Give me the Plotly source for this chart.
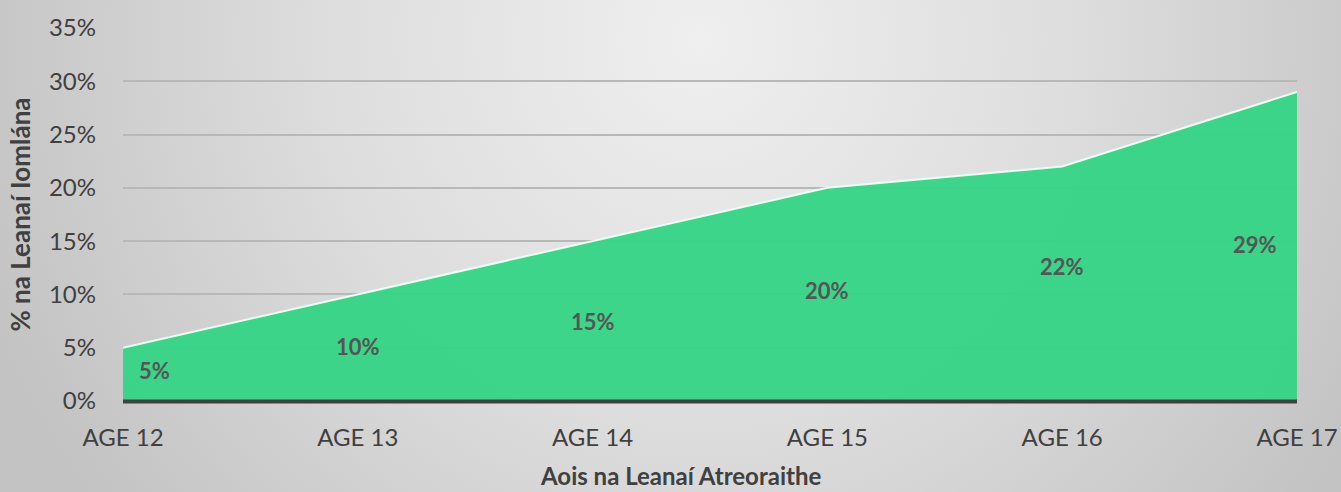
import base64
import plotly.graph_objects as go

categories = ["AGE 12", "AGE 13", "AGE 14", "AGE 15", "AGE 16", "AGE 17"]
values = [5, 10, 15, 20, 22, 29]
y_ticks = [0, 5, 10, 15, 20, 25, 30, 35]
y_tick_labels = [f"{v}%" for v in y_ticks]

W, H = 1341, 492
ML, MR, MT, MB = 123, 44, 28, 91
PW, PH = W - ML - MR, H - MT - MB

FONT = "Lato"

svg = f"""<svg xmlns='http://www.w3.org/2000/svg' width='{W}' height='{H}'>
<defs><radialGradient id='g' gradientUnits='userSpaceOnUse' cx='700' cy='40' r='760'>
<stop offset='0' stop-color='#efefef'/><stop offset='0.5' stop-color='#dddddd'/><stop offset='1' stop-color='#c3c3c3'/>
</radialGradient></defs><rect width='{W}' height='{H}' fill='url(#g)'/></svg>"""
bg_uri = "data:image/svg+xml;base64," + base64.b64encode(svg.encode()).decode()

fig = go.Figure()
fig.add_trace(go.Scatter(
    x=categories, y=values, mode="lines", fill="tozeroy",
    fillcolor="rgba(52,212,132,0.95)",
    line=dict(color="rgba(245,255,250,0.9)", width=2),
    hoverinfo="skip", showlegend=False,
))

# baseline (paper refs so it is not clipped)
fig.add_shape(type="line", xref="paper", yref="paper", x0=0, x1=1,
              y0=-0.5 / PH, y1=-0.5 / PH, line=dict(color="#404040", width=4), layer="above")

# data labels
n = len(categories)
label_yshift = [4, 1, 0, 4, 17, 2]
for i, (c, v) in enumerate(zip(categories, values)):
    xshift = 31 if i == 0 else (-42 if i == n - 1 else 0)
    fig.add_annotation(x=c, y=v / 2, text=f"<b>{v}%</b>", showarrow=False,
                       xshift=xshift, yshift=label_yshift[i],
                       font=dict(family=FONT, size=22, color="#555555"))

fig.add_annotation(xref="paper", yref="paper", x=(680 - ML) / PW, y=(H - MB - 492) / PH,
                   text="<b>Aois na Leanaí Atreoraithe</b>", showarrow=False,
                   font=dict(family=FONT, size=24, color="#404040"), yanchor="bottom")

fig.update_layout(
    width=W, height=H,
    margin=dict(l=ML, r=MR, t=MT, b=MB, autoexpand=False),
    paper_bgcolor="#d8d8d8",
    plot_bgcolor="rgba(0,0,0,0)",
    font=dict(family=FONT, color="#404040"),
    images=[dict(source=bg_uri, xref="paper", yref="paper",
                 x=-ML / PW, y=1 + MT / PH, sizex=W / PW, sizey=H / PH,
                 xanchor="left", yanchor="top", sizing="stretch", layer="below")],
    xaxis=dict(
        type="category", range=[0, n - 1], showgrid=False, zeroline=False, automargin=False,
        showline=False, ticks="", tickfont=dict(family=FONT, size=24, color="#404040"),
        ticklabelstandoff=20,
    ),
    yaxis=dict(
        range=[0, 35], tickvals=y_ticks, ticktext=y_tick_labels, automargin=False,
        showgrid=True, gridcolor="#b8b8b8", gridwidth=1.5, zeroline=False,
        showline=False, ticks="", tickfont=dict(family=FONT, size=24, color="#404040"),
        ticklabelstandoff=26,
        title=dict(text="<b>% na Leanaí Iomlána</b>", font=dict(family=FONT, size=26, color="#404040"), standoff=10),
    ),
)

fig.write_html("out.html", config={"displayModeBar": False},
               post_script="document.body.style.margin='0';document.body.style.overflow='hidden';")
